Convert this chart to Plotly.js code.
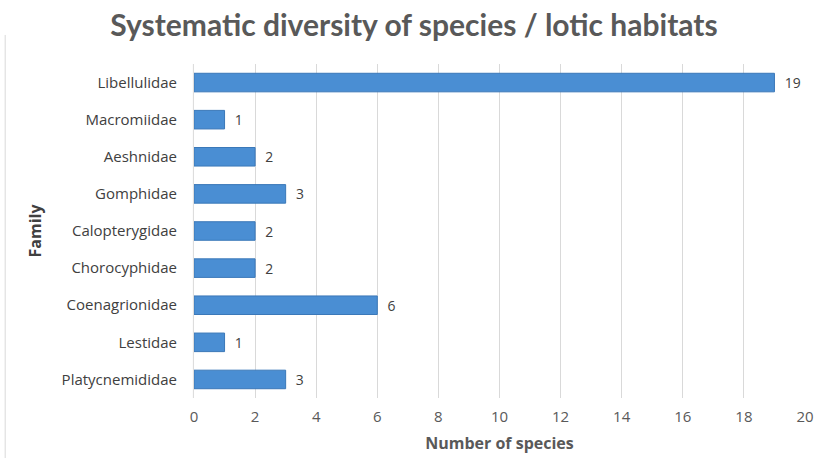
<!DOCTYPE html>
<html>
<head>
<meta charset="utf-8">
<script src="https://cdn.plot.ly/plotly-3.0.1.min.js"></script>
<style>html,body{margin:0;padding:0;background:#fff;}#chart{width:828px;height:458px;}</style>
</head>
<body>
<div id="chart"></div>
<script>
const families = ["Platycnemididae","Lestidae","Coenagrionidae","Chorocyphidae","Calopterygidae","Gomphidae","Aeshnidae","Macromiidae","Libellulidae"];
const species = [3,1,6,2,2,3,2,1,19];
const xTicks = [0,2,4,6,8,10,12,14,16,18,20];

const trace = {
  type: "bar",
  orientation: "h",
  y: families,
  x: species,
  width: 0.5,
  text: species.map(v => "\u00a0\u00a0" + v),
  textposition: "outside",
  cliponaxis: false,
  textfont: {family: "Open Sans, sans-serif", size: 15, color: "#404040"},
  marker: {color: "#4a8ed3", line: {color: "#3b78b8", width: 1}},
  hoverinfo: "none"
};

const layout = {
  width: 828, height: 458,
  margin: {l: 194, r: 23, t: 64, b: 60},
  paper_bgcolor: "#fff", plot_bgcolor: "#fff",
  showlegend: false,
  title: {text: "<b>Systematic diversity of species / lotic habitats</b>", x: 0.5, xanchor: "center", y: 0.945, yanchor: "middle",
          font: {family: "Lato, DejaVu Sans, sans-serif", size: 30, color: "#595959"}},
  xaxis: {range: [0, 20], tickvals: xTicks, ticktext: xTicks.map(String), showgrid: true, gridcolor: "#d9d9d9", gridwidth: 1,
          zeroline: false, showline: false, ticks: "", ticklen: 0, ticklabelstandoff: 8,
          tickfont: {family: "Open Sans, sans-serif", size: 15, color: "#595959"},
          title: {text: "<b>Number of species</b>", standoff: 12, font: {family: "Open Sans, sans-serif", size: 16, color: "#595959"}}},
  yaxis: {categoryorder: "array", categoryarray: families, showgrid: false, zeroline: false, showline: false, ticks: "",
          ticklabelstandoff: 16,
          tickfont: {family: "Open Sans, sans-serif", size: 15, color: "#404040"},
          title: {text: "<b>Family</b>", standoff: 16, font: {family: "Open Sans, sans-serif", size: 16, color: "#404040"}}},
  shapes: [{type: "line", xref: "paper", yref: "paper", x0: -0.001, x1: -0.001, y0: 0, y1: 1, line: {color: "#d9d9d9", width: 1}},
           {type: "line", xref: "paper", yref: "paper", x0: -0.309, x1: -0.309, y0: -0.18, y1: 1.087, line: {color: "#d9d9d9", width: 1}}]
};

Plotly.newPlot("chart", [trace], layout, {displayModeBar: false, staticPlot: true});
</script>
</body>
</html>
